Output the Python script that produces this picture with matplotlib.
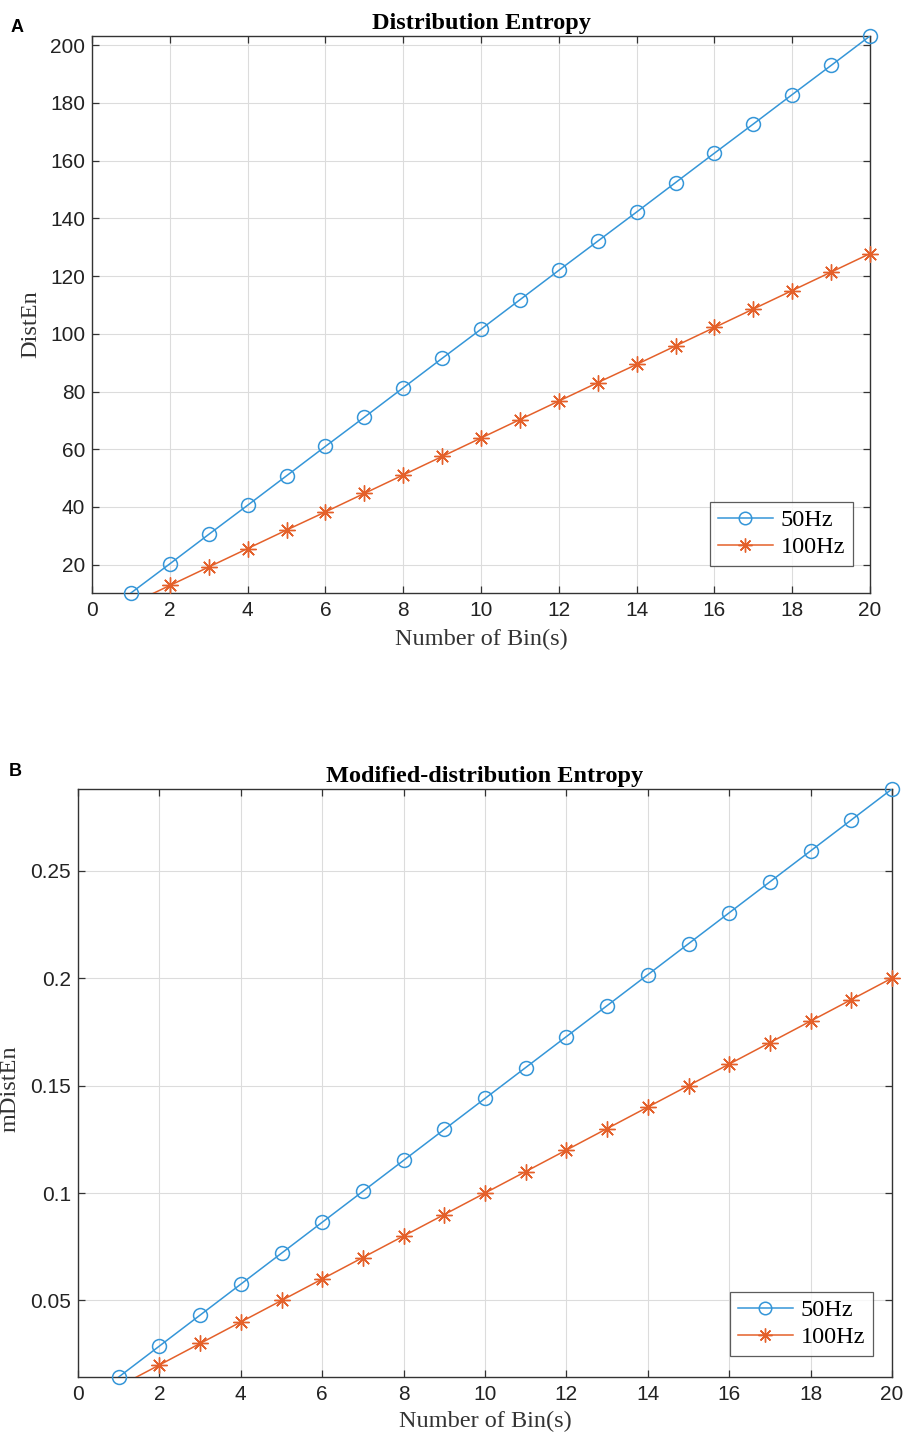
import matplotlib
matplotlib.use("Agg")
import matplotlib.pyplot as plt
from matplotlib.lines import Line2D
import numpy as np

# ---------------- data ----------------
bins = list(range(1, 21))
distEn_50 = [10.2, 20.3, 30.5, 40.6, 50.8, 61.0, 71.1, 81.3, 91.5, 101.6,
             111.8, 122.0, 132.1, 142.2, 152.4, 162.6, 172.7, 182.9, 193.0, 203.2]
distEn_100 = [6.4, 12.8, 19.2, 25.6, 32.0, 38.3, 44.7, 51.1, 57.5, 63.9,
              70.3, 76.7, 83.1, 89.4, 95.8, 102.2, 108.6, 115.0, 121.4, 127.8]
mdistEn_50 = [0.0144, 0.0288, 0.0432, 0.0576, 0.0720, 0.0864, 0.1008, 0.1152, 0.1296, 0.1440,
              0.1584, 0.1728, 0.1872, 0.2016, 0.2160, 0.2304, 0.2448, 0.2592, 0.2736, 0.2880]
mdistEn_100 = [0.010, 0.020, 0.030, 0.040, 0.050, 0.060, 0.070, 0.080, 0.090, 0.100,
               0.110, 0.120, 0.130, 0.140, 0.150, 0.160, 0.170, 0.180, 0.190, 0.200]
series_names = ["50Hz", "100Hz"]
xticks = list(range(0, 21, 2))
yticks_A = [20, 40, 60, 80, 100, 120, 140, 160, 180, 200]
yticks_B = [0.05, 0.1, 0.15, 0.2, 0.25]
yticklabels_B = ["0.05", "0.1", "0.15", "0.2", "0.25"]

# ---------------- style ----------------
BLUE = "#3596d8"
ORANGE = "#e4602a"
SERIF = "Liberation Serif"
SANS = "Liberation Sans"
SPINE = "#333333"
TICK_FS = 15
LABEL_FS = 17.5

W, H = 906, 1437
fig = plt.figure(figsize=(W / 100, H / 100), dpi=100)


def make_panel(rect, y50, y100, yticks, yticklabels, title, ylabel,
               ylabel_xy, xlabel_xy, legend_anchor, letter, letter_xy):
    ax = fig.add_axes(rect)
    ymin, ymax = min(y50), max(y50)
    ax.set_xlim(0, 20)
    ax.set_ylim(ymin, ymax)

    for ys, col, mk, ms in [(y50, BLUE, "o", 10), (y100, ORANGE, (8, 2, 0), 11.5)]:
        ax.plot(bins, ys, color=col, lw=1.1, clip_on=True, zorder=3)
        xs_in = [b for b, v in zip(bins, ys) if ymin - 1e-9 <= v <= ymax + 1e-9]
        ys_in = [v for v in ys if ymin - 1e-9 <= v <= ymax + 1e-9]
        if mk == "o":
            ax.plot(xs_in, ys_in, ls="none", marker="o", ms=ms, mfc="none",
                    mec=col, mew=1.1, clip_on=False, zorder=4)
        else:
            ax.plot(xs_in, ys_in, ls="none", marker=mk, ms=ms, mec=col,
                    mew=1.0, clip_on=False, zorder=4)

    ax.set_xticks(xticks)
    ax.set_xticklabels([str(t) for t in xticks], fontfamily=SANS, fontsize=TICK_FS)
    ax.set_yticks(yticks)
    ax.set_yticklabels(yticklabels, fontfamily=SANS, fontsize=TICK_FS)
    ax.tick_params(direction="in", top=True, right=True, length=5,
                   width=0.9, color=SPINE, labelcolor="#222222")
    ax.tick_params(axis="x", pad=6)
    ax.tick_params(axis="y", pad=5)
    for s in ax.spines.values():
        s.set_color(SPINE)
        s.set_linewidth(1.0)
    ax.grid(True, color="#dcdcdc", lw=0.8, zorder=0)
    ax.set_axisbelow(True)

    ax.set_title(title, fontfamily=SERIF, fontweight="bold", fontsize=LABEL_FS, pad=5)
    ax.set_xlabel("Number of Bin(s)", fontfamily=SERIF, fontsize=LABEL_FS, color="#333333")
    ax.set_ylabel(ylabel, fontfamily=SERIF, fontsize=LABEL_FS, color="#333333")
    ax.xaxis.set_label_coords(*xlabel_xy)
    ax.yaxis.set_label_coords(*ylabel_xy)

    handles = [
        Line2D([], [], color=BLUE, lw=1.1, marker="o", ms=9, mfc="none", mec=BLUE, mew=1.1),
        Line2D([], [], color=ORANGE, lw=1.1, marker=(8, 2, 0), ms=10, mec=ORANGE, mew=1.0),
    ]
    leg = ax.legend(handles, series_names, loc="lower right", bbox_to_anchor=legend_anchor,
                    bbox_transform=fig.transFigure,
                    prop={"family": SERIF, "size": LABEL_FS}, handlelength=2.3,
                    handletextpad=0.3, borderpad=0.32, labelspacing=0.2,
                    borderaxespad=0.0, frameon=True, fancybox=False, numpoints=1)
    leg.get_frame().set_edgecolor("#333333")
    leg.get_frame().set_linewidth(0.9)

    fig.text(letter_xy[0], letter_xy[1], letter, fontfamily=SANS, fontweight="bold",
             fontsize=13, ha="left", va="center")
    return ax


# Panel A: axes x 92..870, y 36..593
make_panel([92 / W, 1 - 593 / H, (870 - 92) / W, (593 - 36) / H],
           distEn_50, distEn_100, yticks_A, [str(t) for t in yticks_A],
           "Distribution Entropy", "DistEn",
           ylabel_xy=((41 - 92) / 778, (593 - 324) / 557),
           xlabel_xy=(0.5, (593 - 629) / 557),
           legend_anchor=(853 / W, 1 - 566 / H),
           letter="A", letter_xy=(11 / W, 1 - 27 / H))

# Panel B: axes x 78..892, y 789..1377
make_panel([78 / W, 1 - 1377 / H, (892 - 78) / W, (1377 - 789) / H],
           mdistEn_50, mdistEn_100, yticks_B, yticklabels_B,
           "Modified-distribution Entropy", "mDistEn",
           ylabel_xy=((21 - 78) / 814, 0.49),
           xlabel_xy=(0.5, (1377 - 1411) / 588),
           legend_anchor=(873 / W, 1 - 1356 / H),
           letter="B", letter_xy=(9 / W, 1 - 772 / H))

fig.savefig("out.png", dpi=100)
